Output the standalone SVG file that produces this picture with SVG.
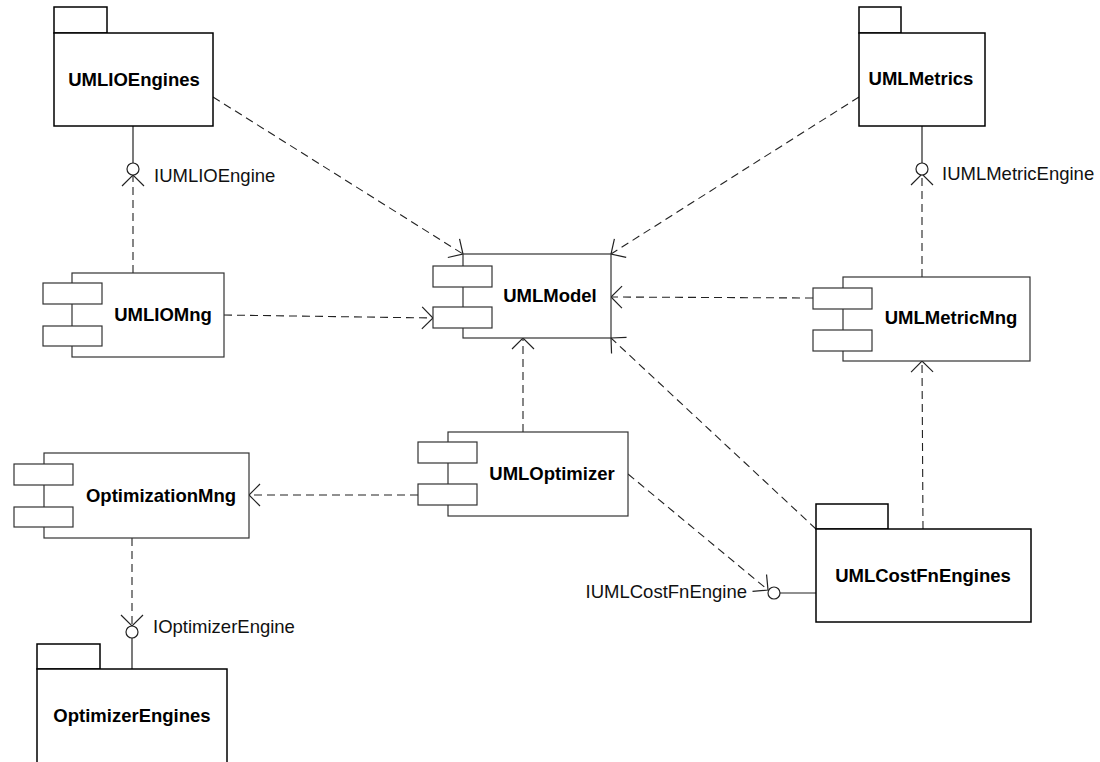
<svg xmlns="http://www.w3.org/2000/svg" width="1100" height="762" viewBox="0 0 1100 762">
  <style>
    .pkg { fill: #fff; stroke: #000; stroke-width: 1.5; }
    .cmp { fill: #fff; stroke: #333; stroke-width: 1.2; }
    .title { font-family: "Liberation Sans", Arial, sans-serif; font-size: 18.5px; font-weight: bold; fill: #000; text-anchor: middle; }
    .iface { font-family: "Liberation Sans", Arial, sans-serif; font-size: 18.5px; fill: #111; }
    .dep { fill: none; stroke: #222; stroke-width: 1.1; stroke-dasharray: 8 5; marker-end: url(#open); }
    .solid { fill: none; stroke: #222; stroke-width: 1.2; }
    .lolly { fill: #fff; stroke: #222; stroke-width: 1.2; }
  </style>
  <defs>
    <marker id="open" markerUnits="userSpaceOnUse" markerWidth="30" markerHeight="30" viewBox="-15 -15 30 30" refX="0" refY="0" orient="auto">
      <path d="M-11,-11 L0,0 L-11,11" fill="none" stroke="#222" stroke-width="1.2"/>
    </marker>
  </defs>
  <rect width="1100" height="762" fill="#fff"/>

  <!-- dependency connectors and interface lollipops -->
  <g id="connectors">
    <line class="dep" x1="213" y1="97" x2="463" y2="254"/>
    <line class="dep" x1="859" y1="97" x2="611" y2="254"/>
    <line class="dep" x1="224" y1="315" x2="433" y2="318"/>
    <line class="dep" x1="813" y1="298" x2="611" y2="297"/>
    <line class="dep" x1="523" y1="432" x2="523" y2="338"/>
    <line class="dep" x1="816" y1="529" x2="611" y2="338"/>
    <line class="dep" x1="923" y1="529" x2="922" y2="361"/>
    <line class="dep" x1="418" y1="495" x2="249" y2="495"/>
    <line class="dep" x1="133" y1="273" x2="133" y2="175"/>
    <line class="dep" x1="922" y1="277" x2="922" y2="174"/>
    <line class="dep" x1="132" y1="538" x2="132" y2="626"/>
    <line class="dep" x1="628" y1="474" x2="768" y2="590"/>

    <line class="solid" x1="133" y1="126" x2="133" y2="163"/>
    <circle class="lolly" cx="133" cy="169" r="6"/>
    <line class="solid" x1="922" y1="126" x2="922" y2="163"/>
    <circle class="lolly" cx="922" cy="169" r="6"/>
    <line class="solid" x1="132" y1="638" x2="132" y2="669"/>
    <circle class="lolly" cx="132" cy="632" r="6"/>
    <line class="solid" x1="780" y1="593" x2="816" y2="593"/>
    <circle class="lolly" cx="774" cy="593" r="6"/>

    <text class="iface" x="154" y="182">IUMLIOEngine</text>
    <text class="iface" x="942" y="180">IUMLMetricEngine</text>
    <text class="iface" x="747" y="598" text-anchor="end">IUMLCostFnEngine</text>
    <text class="iface" x="153" y="633">IOptimizerEngine</text>
  </g>

  <!-- packages -->
  <g id="UMLIOEngines">
    <rect class="pkg" x="54" y="7" width="53" height="26"/>
    <rect class="pkg" x="54" y="33" width="159" height="93"/>
    <text class="title" x="134" y="86">UMLIOEngines</text>
  </g>
  <g id="UMLMetrics">
    <rect class="pkg" x="859" y="7" width="42" height="26"/>
    <rect class="pkg" x="859" y="33" width="126" height="93"/>
    <text class="title" x="921" y="85">UMLMetrics</text>
  </g>
  <g id="UMLCostFnEngines">
    <rect class="pkg" x="816" y="504" width="72" height="25"/>
    <rect class="pkg" x="816" y="529" width="215" height="93"/>
    <text class="title" x="923" y="582">UMLCostFnEngines</text>
  </g>
  <g id="OptimizerEngines">
    <rect class="pkg" x="37" y="644" width="63" height="25"/>
    <rect class="pkg" x="37" y="669" width="190" height="100"/>
    <text class="title" x="132" y="722">OptimizerEngines</text>
  </g>

  <!-- components -->
  <g id="UMLIOMng">
    <rect class="cmp" x="72" y="273" width="152" height="84"/>
    <rect class="cmp" x="43" y="283" width="59" height="21"/>
    <rect class="cmp" x="43" y="326" width="59" height="20"/>
    <text class="title" x="163" y="321">UMLIOMng</text>
  </g>
  <g id="UMLModel">
    <rect class="cmp" x="463" y="254" width="148" height="84"/>
    <rect class="cmp" x="433" y="266" width="59" height="21"/>
    <rect class="cmp" x="433" y="307" width="59" height="21"/>
    <text class="title" x="550" y="302">UMLModel</text>
  </g>
  <g id="UMLMetricMng">
    <rect class="cmp" x="843" y="277" width="187" height="84"/>
    <rect class="cmp" x="813" y="288" width="59" height="21"/>
    <rect class="cmp" x="813" y="330" width="59" height="21"/>
    <text class="title" x="951" y="324">UMLMetricMng</text>
  </g>
  <g id="UMLOptimizer">
    <rect class="cmp" x="448" y="432" width="180" height="84"/>
    <rect class="cmp" x="418" y="442" width="59" height="21"/>
    <rect class="cmp" x="418" y="484" width="59" height="21"/>
    <text class="title" x="552" y="480">UMLOptimizer</text>
  </g>
  <g id="OptimizationMng">
    <rect class="cmp" x="44" y="453" width="205" height="85"/>
    <rect class="cmp" x="14" y="464" width="59" height="21"/>
    <rect class="cmp" x="14" y="507" width="59" height="20"/>
    <text class="title" x="161" y="502">OptimizationMng</text>
  </g>
</svg>
